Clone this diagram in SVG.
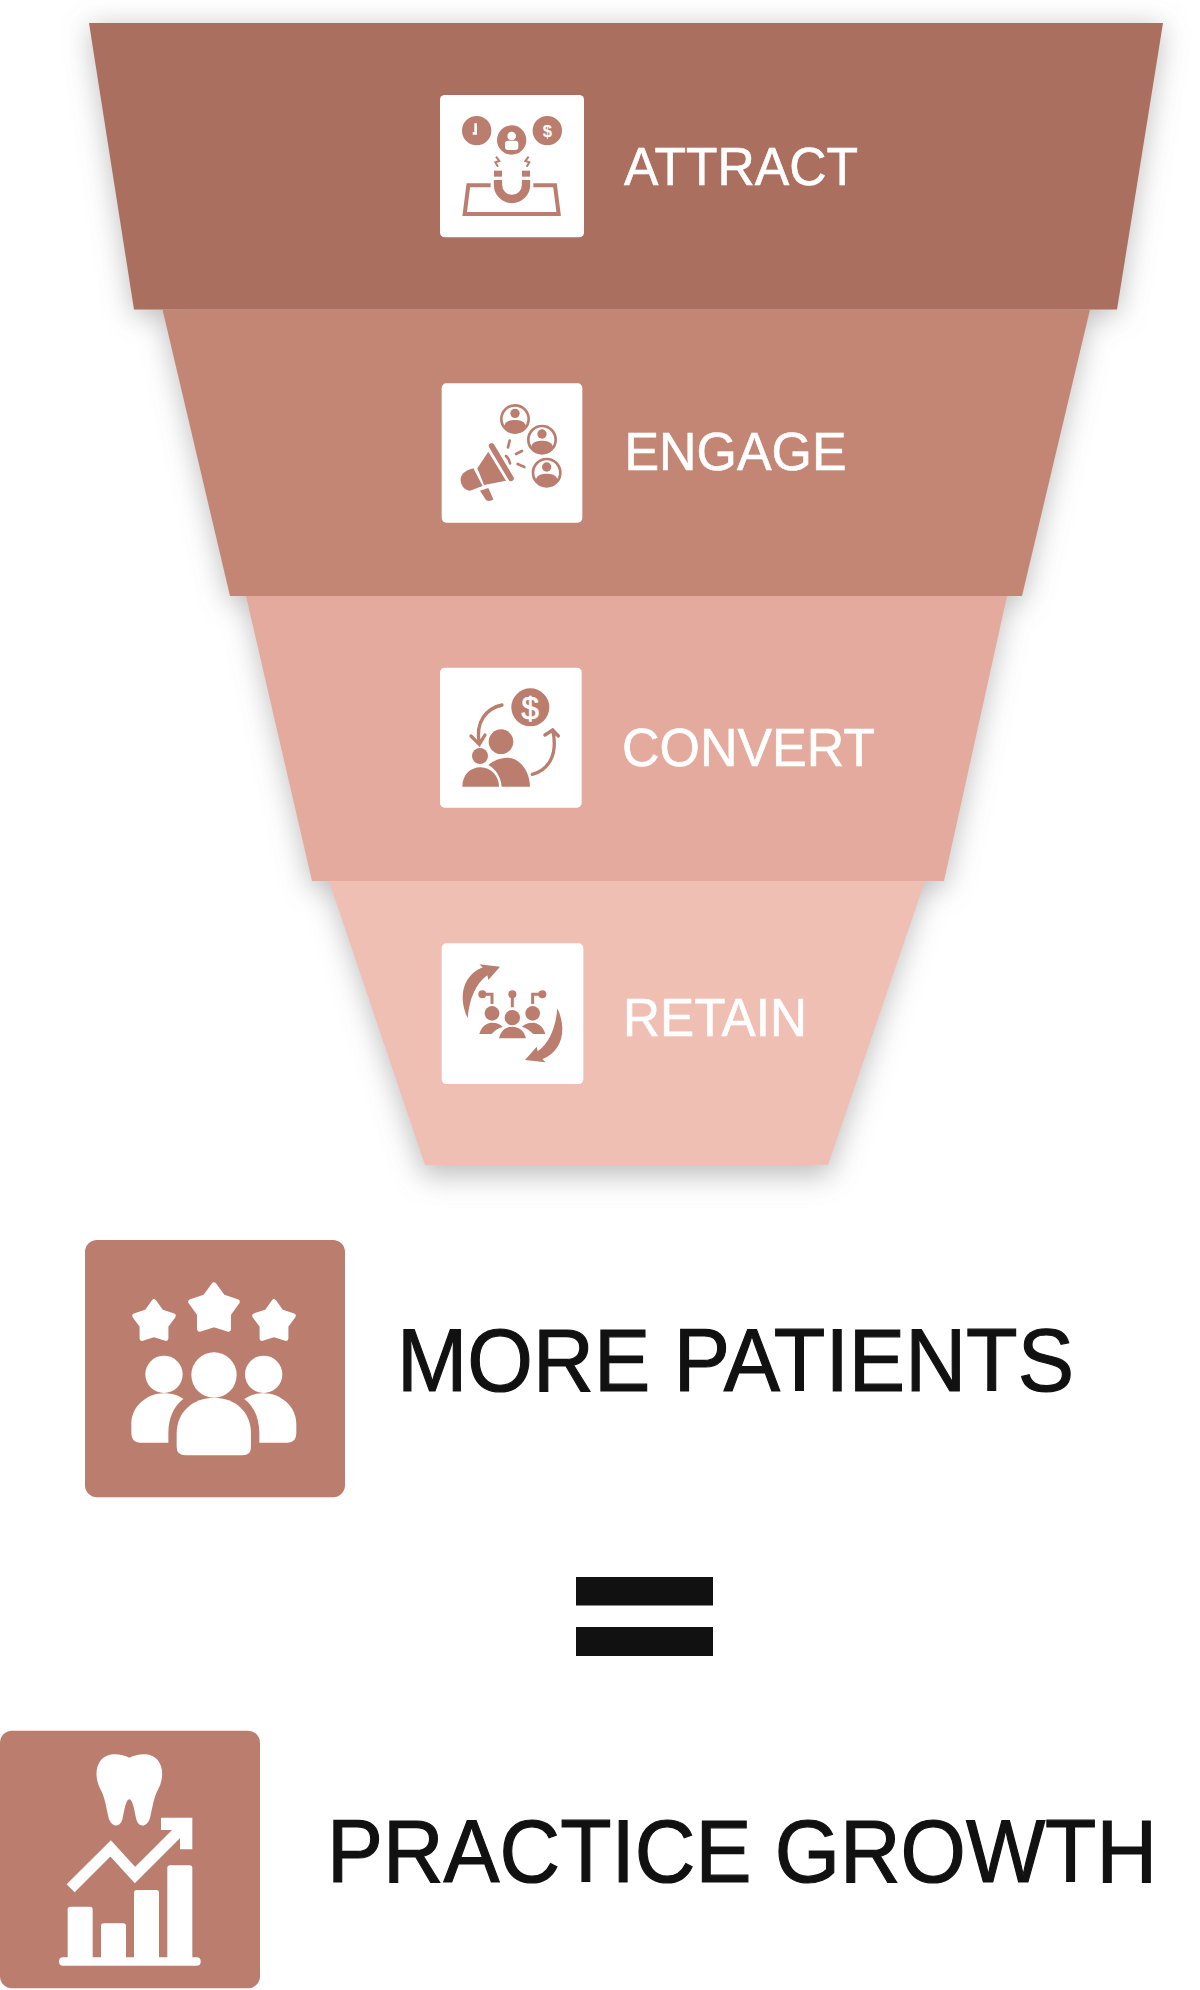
<svg xmlns="http://www.w3.org/2000/svg" width="1200" height="1990" viewBox="0 0 1200 1990">
  <style>
    .label { font-family: "Liberation Sans", Arial, sans-serif; fill: #ffffff; font-size: 53px; stroke: #ffffff; stroke-width: .6px; }
    .headline { font-family: "Liberation Sans", Arial, sans-serif; fill: #111111; font-size: 89px; stroke: #111111; stroke-width: 1.2px; }
    .ink { fill: #bb7e6e; }
    .line { fill: none; stroke: #bb7e6e; }
    .pale { fill: #ffffff; }
    .tile { fill: #ffffff; }
    .big { fill: #bb7e6e; }
  </style>
  <defs>
    <filter id="soft" x="-20%" y="-20%" width="140%" height="140%">
      <feGaussianBlur stdDeviation="14"/>
    </filter>
    <polygon id="star" points="0,-1 .364,-.5 .951,-.309 .59,.19 .588,.809 0,.62 -.588,.809 -.59,.19 -.951,-.309 -.364,-.5" fill="#fff" stroke="#fff" stroke-linejoin="round"/>
    <g id="avatar">
      <circle r="41" fill="none" stroke="#bb7e6e" stroke-width="8"/>
      <circle cy="-17" r="14" fill="#bb7e6e"/>
      <path d="M-33,22 C-28,4 -12,3 0,3 C12,3 28,4 33,22 A40,40 0 0 1 -33,22 Z" fill="#bb7e6e"/>
    </g>
  </defs>

  <rect width="1200" height="1990" fill="#ffffff"/>

  <!-- soft shadow under the whole funnel -->
  <g id="funnel-shadow" fill="#808080" fill-opacity=".5" filter="url(#soft)">
    <polygon points="89,27 1163,27 1117,315 134,315"/>
    <polygon points="162,313 1090,313 1022,602 230,602"/>
    <polygon points="246,600 1007,600 944,888 312,888"/>
    <polygon points="329,885 925,885 828,1176 425,1176"/>
  </g>

  <g id="attract">
    <polygon points="89,23 1163,23 1117,309.500 134,309.500" fill="#ab6f5f"/>
    <g transform="translate(420,80) scale(.33333)">
      <rect class="tile" x="60" y="45" width="432" height="427" rx="14"/>
      <circle class="ink" cx="170" cy="152" r="44"/>
      <path d="M167,130 V160 H158" fill="none" stroke="#fff" stroke-width="8"/>
      <circle class="ink" cx="382" cy="152" r="44"/>
      <text x="382" y="170" text-anchor="middle" font-family="'Liberation Sans', Arial, sans-serif" font-weight="700" font-size="50" fill="#fff">$</text>
      <circle class="ink" cx="275" cy="180" r="44"/>
      <circle class="pale" cx="275" cy="168" r="13"/>
      <rect class="pale" x="255" y="182" width="40" height="28" rx="9"/>
      <path class="line" stroke-width="12" d="M212,316 H145 L134,402 H416 L405,316 H340"/>
      <path class="line" stroke-width="25" d="M234,300 V315 A42,42 0 0 0 318,315 V300"/>
      <rect class="ink" x="222" y="272" width="24" height="18"/>
      <rect class="ink" x="306" y="272" width="24" height="18"/>
      <path class="line" stroke-width="6" d="M228,230 L238,243 L226,247 L234,260"/>
      <path class="line" stroke-width="6" d="M326,230 L316,243 L328,247 L320,260"/>
    </g>
    <text class="label" x="624" y="185" textLength="234" lengthAdjust="spacingAndGlyphs">ATTRACT</text>
  </g>

  <g id="engage">
    <polygon points="162.500,309.500 1090,309.500 1022,596 230,596" fill="#c38675"/>
    <g transform="translate(420,370) scale(.33333)">
      <rect class="tile" x="65" y="40" width="422" height="418" rx="14"/>
      <use href="#avatar" x="285" y="147"/>
      <use href="#avatar" x="366" y="209"/>
      <use href="#avatar" x="380" y="308"/>
      <path class="ink" d="M205,245 L258,332 L192,345 L172,295 Z"/>
      <path class="ink" d="M160,295 L188,348 L150,362 C130,362 120,340 122,325 C125,310 140,300 160,295 Z"/>
      <path class="line" stroke-width="17" stroke-linecap="round" d="M215,228 L273,325"/>
      <path class="ink" d="M180,362 L205,354 L220,388 C212,394 204,394 198,390 Z"/>
      <path class="line" stroke-width="8" stroke-linecap="round" d="M269,212 L264,232 M288,252 L306,243 M293,282 L313,291 M258,258 C264,263 268,270 270,280"/>
    </g>
    <text class="label" x="624.500" y="470" textLength="222" lengthAdjust="spacingAndGlyphs">ENGAGE</text>
  </g>

  <g id="convert">
    <polygon points="246,596 1007,596 944,881 312,881" fill="#e4aa9d"/>
    <g transform="translate(420,655) scale(.33333)">
      <rect class="tile" x="60" y="38" width="425" height="420" rx="14"/>
      <circle class="ink" cx="331" cy="157" r="57"/>
      <text x="331" y="191" text-anchor="middle" font-family="'Liberation Sans', Arial, sans-serif" font-size="94" fill="#fff" stroke="#fff" stroke-width="2">$</text>
      <path class="line" stroke-width="10" stroke-linecap="round" d="M246,150 C200,160 165,200 178,265 M153,243 L178,268 L195,240"/>
      <path class="line" stroke-width="10" stroke-linecap="round" d="M337,358 C385,345 415,300 398,225 M375,240 L398,225 L415,243"/>
      <circle class="ink" cx="243" cy="260" r="37"/>
      <circle class="ink" cx="180" cy="303" r="24"/>
      <path class="ink" d="M205,330 C225,312 250,308 262,308 C300,308 330,350 330,395 L245,395 C243,365 225,340 205,330 Z"/>
      <path class="ink" d="M127,395 C127,360 150,337 182,337 C212,337 237,362 237,395 Z"/>
    </g>
    <text class="label" x="622" y="766" textLength="253" lengthAdjust="spacingAndGlyphs">CONVERT</text>
  </g>

  <g id="retain">
    <polygon points="329,881 925,881 828,1165 425,1165" fill="#f0bfb4"/>
    <g transform="translate(420,930) scale(.33333)">
      <rect class="tile" x="65" y="40" width="425" height="422" rx="14"/>
      <path class="ink" d="M143,265 C112,200 130,135 188,112 L178,103 L240,110 L205,150 L202,136 C168,160 148,205 143,265 Z"/>
      <path class="ink" transform="rotate(180 277.500 250)" d="M143,265 C112,200 130,135 188,112 L178,103 L240,110 L205,150 L202,136 C168,160 148,205 143,265 Z"/>
      <circle class="ink" cx="187" cy="193" r="12"/>
      <circle class="ink" cx="277" cy="193" r="12"/>
      <circle class="ink" cx="367" cy="193" r="12"/>
      <path class="line" stroke-width="9" d="M187,193 H216 V222 M277,193 V232 M367,193 H338 V222"/>
      <circle class="ink" cx="216" cy="250" r="22"/>
      <circle class="ink" cx="277" cy="263" r="23"/>
      <circle class="ink" cx="338" cy="250" r="22"/>
      <path class="ink" d="M178,312 C185,285 205,278 216,278 C232,278 242,283 248,290 C232,295 222,303 215,312 Z"/>
      <path class="ink" d="M237,325 C243,300 260,290 277,290 C295,290 312,300 318,325 Z"/>
      <path class="ink" d="M376,312 C369,285 349,278 338,278 C322,278 312,283 306,290 C322,295 332,303 339,312 Z"/>
    </g>
    <text class="label" x="623" y="1036" textLength="184" lengthAdjust="spacingAndGlyphs">RETAIN</text>
  </g>

  <g id="more-patients">
    <g transform="translate(70,1220) scale(.33333)">
      <rect class="big" x="45" y="60" width="780" height="772" rx="36"/>
      <use href="#star" transform="translate(432,268) scale(72)" stroke-width=".24"/>
      <use href="#star" transform="translate(252,306) scale(61)" stroke-width=".24"/>
      <use href="#star" transform="translate(612,306) scale(61)" stroke-width=".24"/>
      <g class="pale">
        <circle cx="432" cy="465" r="68"/>
        <circle cx="282" cy="463" r="56"/>
        <circle cx="581" cy="463" r="56"/>
        <path d="M320,640 C320,575 370,533 432,533 C495,533 543,575 543,640 L543,680 Q543,706 517,706 L347,706 Q320,706 320,680 Z"/>
        <path d="M340,537 C320,522 300,520 282,520 C230,520 184,560 184,612 L184,640 Q184,668 210,668 L295,668 L295,640 C295,595 310,560 340,537 Z"/>
        <path d="M523,537 C543,522 563,520 581,520 C633,520 679,560 679,612 L679,640 Q679,668 653,668 L568,668 L568,640 C568,595 553,560 523,537 Z"/>
      </g>
    </g>
    <text class="headline" x="397" y="1391" textLength="677" lengthAdjust="spacingAndGlyphs">MORE PATIENTS</text>
  </g>

  <g id="equals" fill="#111111">
    <rect x="576" y="1577" width="137" height="28.500"/>
    <rect x="576" y="1627" width="137" height="29"/>
  </g>

  <g id="practice-growth">
    <g transform="translate(0,1710) scale(.33333)">
      <rect class="big" x="0" y="62" width="780" height="773" rx="36"/>
      <g class="pale">
        <path d="M388,143 C360,128 320,128 303,150 C283,175 288,210 300,235 C315,262 318,290 325,320 C332,350 360,358 368,325 C374,295 378,270 388,268 C398,270 402,295 408,325 C416,358 444,350 451,320 C458,290 461,262 476,235 C488,210 493,175 473,150 C456,128 416,128 388,143 Z"/>
        <polygon points="483,323 577,323 577,418 540,418 540,360 483,360"/>
        <rect x="203" y="590" width="75" height="160" rx="8"/>
        <rect x="303" y="640" width="75" height="110" rx="8"/>
        <rect x="402" y="540" width="75" height="210" rx="8"/>
        <rect x="502" y="466" width="75" height="284" rx="8"/>
        <rect x="177" y="742" width="425" height="25" rx="12"/>
      </g>
      <path d="M212,535 L332,415 L405,495 L550,350" fill="none" stroke="#fff" stroke-width="34"/>
    </g>
    <text class="headline" transform="translate(327,1882) scale(.9432,1)" textLength="880" lengthAdjust="spacingAndGlyphs">PRACTICE GROWTH</text>
  </g>
</svg>
